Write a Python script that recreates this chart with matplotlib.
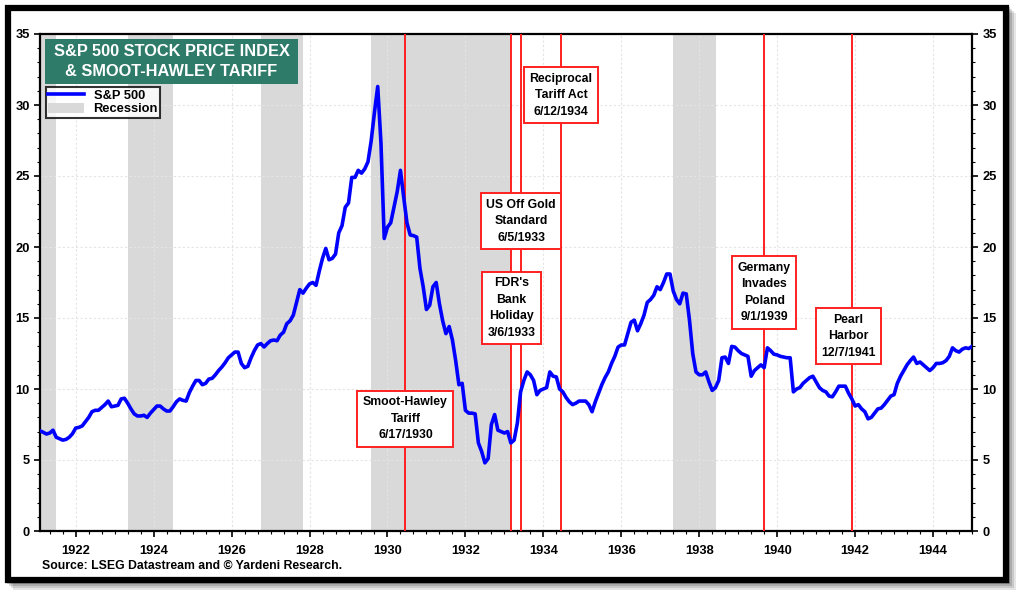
import numpy as np
import matplotlib
matplotlib.use('Agg')
import matplotlib.pyplot as plt
from matplotlib.patches import Rectangle
from matplotlib.ticker import MultipleLocator

plt.rcParams['font.family'] = ['Liberation Sans', 'DejaVu Sans']
plt.rcParams['font.weight'] = 'bold'

# monthly S&P 500 price index, Jan 1921 .. Dec 1944
sp500 = {
    1921: [7.05, 6.95, 6.83, 6.9, 7.1, 6.6, 6.5, 6.4, 6.45, 6.6, 6.85, 7.25],
    1922: [7.3, 7.4, 7.7, 8.0, 8.4, 8.5, 8.5, 8.7, 8.9, 9.15, 8.75, 8.8],
    1923: [8.85, 9.3, 9.35, 9.0, 8.6, 8.25, 8.1, 8.1, 8.15, 8.0, 8.3, 8.55],
    1924: [8.8, 8.8, 8.6, 8.45, 8.45, 8.75, 9.1, 9.3, 9.2, 9.15, 9.75, 10.2],
    1925: [10.6, 10.6, 10.3, 10.4, 10.7, 10.75, 11.0, 11.3, 11.55, 11.85, 12.2, 12.4],
    1926: [12.6, 12.6, 11.8, 11.5, 11.6, 12.2, 12.7, 13.1, 13.2, 12.96, 13.2, 13.4],
    1927: [13.45, 13.4, 13.8, 14.0, 14.6, 14.8, 15.2, 16.1, 17.0, 16.75, 17.1, 17.4],
    1928: [17.5, 17.3, 18.3, 19.2, 19.9, 19.1, 19.2, 19.5, 21.0, 21.5, 22.8, 23.1],
    1929: [24.9, 24.9, 25.4, 25.2, 25.5, 26.0, 27.5, 29.5, 31.3, 27.3, 20.6, 21.4],
    1930: [21.7, 22.8, 23.9, 25.4, 23.5, 21.7, 20.85, 20.8, 20.7, 18.5, 17.2, 15.6],
    1931: [15.9, 17.2, 17.5, 16.0, 14.8, 13.9, 14.4, 13.45, 12.0, 10.3, 10.4, 8.5],
    1932: [8.3, 8.3, 8.25, 6.2, 5.6, 4.8, 5.1, 7.5, 8.2, 7.1, 7.0, 6.9],
    1933: [7.0, 6.2, 6.4, 7.6, 9.8, 10.6, 11.2, 11.0, 10.6, 9.6, 9.9, 10.0],
    1934: [10.1, 11.2, 10.9, 10.85, 10.0, 9.8, 9.4, 9.1, 8.9, 9.0, 9.15, 9.15],
    1935: [9.15, 8.9, 8.4, 9.1, 9.7, 10.3, 10.8, 11.2, 11.8, 12.3, 12.95, 13.1],
    1936: [13.1, 13.9, 14.7, 14.85, 14.1, 14.6, 15.2, 16.1, 16.3, 16.6, 17.2, 17.0],
    1937: [17.5, 18.1, 18.1, 16.9, 16.3, 16.0, 16.75, 16.7, 14.85, 12.5, 11.2, 11.0],
    1938: [11.0, 11.2, 10.5, 9.9, 10.1, 10.6, 12.2, 12.25, 11.8, 13.0, 12.95, 12.7],
    1939: [12.5, 12.4, 12.3, 10.9, 11.3, 11.5, 11.7, 11.5, 12.9, 12.7, 12.45, 12.4],
    1940: [12.3, 12.25, 12.2, 12.2, 9.8, 10.0, 10.1, 10.4, 10.6, 10.8, 10.9, 10.5],
    1941: [10.1, 9.9, 9.8, 9.5, 9.45, 9.8, 10.2, 10.2, 10.2, 9.7, 9.3, 8.8],
    1942: [8.9, 8.6, 8.4, 7.9, 8.0, 8.3, 8.6, 8.65, 8.9, 9.2, 9.5, 9.6],
    1943: [10.4, 10.9, 11.3, 11.7, 12.0, 12.25, 11.8, 11.9, 11.7, 11.5, 11.3, 11.5],
    1944: [11.8, 11.8, 11.85, 12.0, 12.3, 12.9, 12.7, 12.6, 12.8, 12.9, 12.85, 13.0],
}

# recessions (start, end) in decimal years
recessions = [(1920.0, 1921.5), (1923.33, 1924.5), (1926.75, 1927.83),
              (1929.58, 1933.17), (1937.33, 1938.42)]

# events: (decimal date, label, y of label box centre)
events = [
    (1930.46, 'Smoot-Hawley\nTariff\n6/17/1930', 7.9),
    (1933.18, "FDR's\nBank\nHoliday\n3/6/1933", 15.7),
    (1933.43, 'US Off Gold\nStandard\n6/5/1933', 21.8),
    (1934.45, 'Reciprocal\nTariff Act\n6/12/1934', 30.7),
    (1939.67, 'Germany\nInvades\nPoland\n9/1/1939', 16.8),
    (1941.93, 'Pearl\nHarbor\n12/7/1941', 13.7),
]

years = sorted(sp500)
dates = np.array([y + (m + 1) / 12 for y in years for m in range(12)])
prices = np.array([v for y in years for v in sp500[y]])

fig = plt.figure(figsize=(10.24, 5.98), dpi=100)

# outer frame with a soft shadow
W, H = 1024, 598
for i, a in enumerate([0.10, 0.12, 0.15, 0.2]):
    off = 8 - 2 * i
    fig.patches.append(Rectangle(((5 + off) / W, 1 - (582 + off) / H), 1003 / W, 577 / H,
                                 transform=fig.transFigure, facecolor='k', alpha=a,
                                 edgecolor='none', zorder=0))
fig.patches.append(Rectangle((7.5 / W, 1 - 579.5 / H), 998 / W, 572 / H,
                             transform=fig.transFigure, facecolor='white',
                             edgecolor='black', linewidth=4.5, zorder=1))

ax = fig.add_axes([40 / W, 1 - 531 / H, 932 / W, 497 / H])
ax.set_zorder(2)

for s, e in recessions:
    ax.axvspan(s, e, color='#d9d9d9', lw=0, zorder=1)

ax.grid(True, which='major', color='#e4e4e4', linestyle=(0, (2, 2)), linewidth=0.8, zorder=0)

ax.plot(dates, prices, color='#0000ff', linewidth=2.6, zorder=4, label='S&P 500')

for d, txt, yc in events:
    ax.axvline(d, color='#ff2020', linewidth=1.4, zorder=3)
    xt = d - 0.1 if d > 1941 else d
    ax.text(xt, yc, txt, ha='center', va='center', fontsize=8.8, fontweight='bold',
            linespacing=1.5, zorder=6,
            bbox=dict(boxstyle='square,pad=0.45', facecolor='white', edgecolor='#ff2020', linewidth=1.4))

ax.set_xlim(1921 + 1 / 12, 1945)
ax.set_ylim(0, 35)
ax.xaxis.set_major_locator(MultipleLocator(2))
ax.xaxis.set_minor_locator(MultipleLocator(1 / 3))
ax.yaxis.set_major_locator(MultipleLocator(5))
ax.yaxis.set_minor_locator(MultipleLocator(1))
ax.tick_params(axis='both', which='major', length=4, width=1.2, labelsize=9.3, direction='out')
ax.tick_params(axis='both', which='minor', length=2.5, width=0.8, direction='out')
ax.tick_params(axis='y', which='both', left=True, right=True, labelleft=True, labelright=True)
ax.tick_params(axis='x', pad=6)
for lab in ax.get_xticklabels() + ax.get_yticklabels():
    lab.set_fontweight('bold')
for sp in ax.spines.values():
    sp.set_linewidth(1.6)

# title box (centred text, fixed box behind it)
ax.add_patch(Rectangle((5 / 932, 1 - 50 / 497), 253 / 932, 45 / 497, transform=ax.transAxes,
                       facecolor='#2f7b6a', edgecolor='none', zorder=7))
ax.text(131.5 / 932, 1 - 27.5 / 497, 'S&P 500 STOCK PRICE INDEX\n& SMOOT-HAWLEY TARIFF',
        transform=ax.transAxes, ha='center', va='center', multialignment='center',
        color='white', fontsize=11.8, fontweight='bold', linespacing=1.35, zorder=8)

# legend
leg_handles = [plt.Line2D([], [], color='#0000ff', linewidth=2.6),
               Rectangle((0, 0), 1, 1, facecolor='#d9d9d9', edgecolor='none')]
leg = ax.legend(leg_handles, ['S&P 500', 'Recession'], loc='upper left',
                bbox_to_anchor=(0.002, 0.902), frameon=True, fancybox=False,
                prop={'weight': 'bold', 'size': 9.3}, handlelength=2.8, handleheight=0.9,
                borderpad=0.2, labelspacing=0.05, handletextpad=0.7, borderaxespad=0.3)
leg.get_frame().set_edgecolor('black')
leg.get_frame().set_linewidth(1.5)
leg.set_zorder(7)

fig.text(42 / W, 1 - 566 / H, 'Source: LSEG Datastream and \u00a9 Yardeni Research.',
         ha='left', va='center', fontsize=8.8, fontweight='bold', zorder=5)

fig.savefig('out.png', dpi=100)
